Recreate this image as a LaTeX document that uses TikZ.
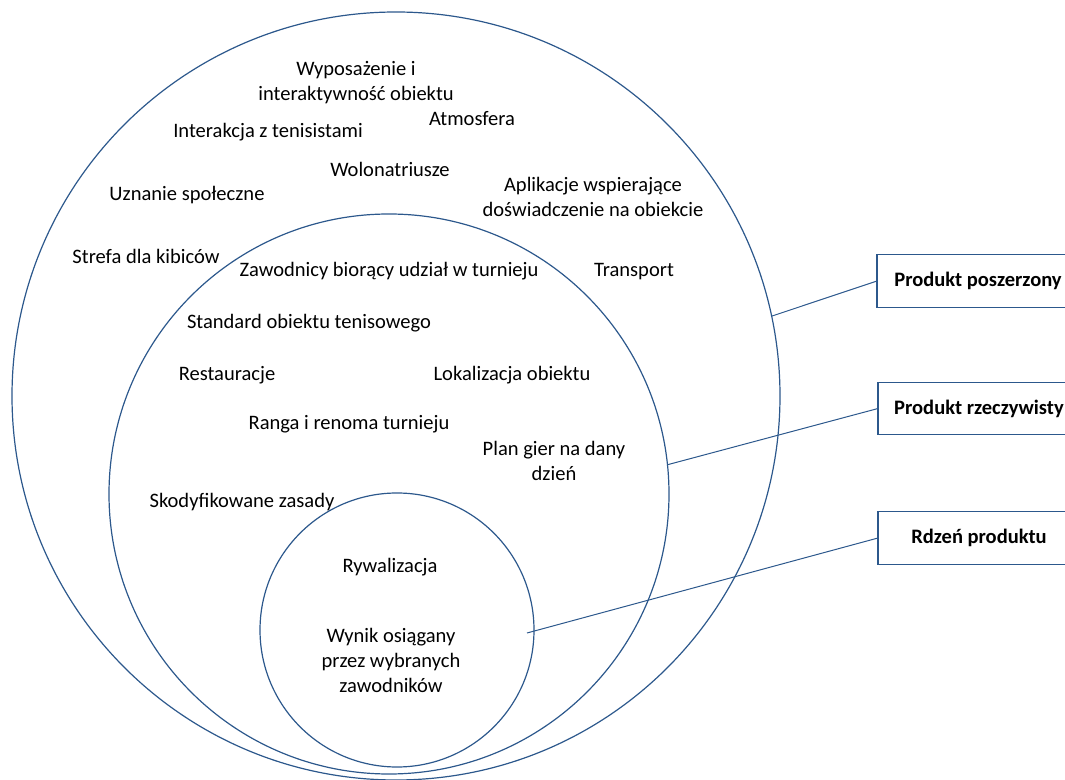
\documentclass[tikz,border=0pt]{standalone}
\usepackage{fontspec}
\setmainfont{Carlito}
\definecolor{ringblue}{RGB}{44,88,140}
\begin{document}
\begin{tikzpicture}[x=0.75pt,y=-0.75pt,
  ring/.style={draw=ringblue, line width=0.9pt, circle, inner sep=0pt, outer sep=0pt},
  lbl/.style={font=\fontsize{15.4}{18.75}\selectfont, align=center, inner sep=0pt, anchor=base},
  tag/.style={draw=ringblue, line width=0.9pt, fill=white, inner sep=0pt, outer sep=0pt,
    minimum width=151.5pt, minimum height=39.5pt, anchor=west,
    font=\fontsize{15.4}{18.75}\selectfont\bfseries},
  link/.style={draw=ringblue, line width=0.75pt}]
\useasboundingbox (0,0) rectangle (1065,780);
\clip (0,0) rectangle (1065,780);

% three nested rings of the product model
\node[ring, minimum size=576pt] (outer) at (396,396) {};
\node[ring, minimum size=420pt] (middle) at (389,494) {};
\node[ring, minimum size=205.5pt] (inner) at (397,630) {};

% outer ring: augmented product (multi-line labels sit on their last baseline)
\node[lbl] (t1) at (356,101) {Wyposażenie i\\interaktywność obiektu};
\node[lbl] (t2) at (472,126) {Atmosfera};
\node[lbl] (t3) at (268,138) {Interakcja z tenisistami};
\node[lbl] (t4) at (390,177) {Wolonatriusze};
\node[lbl] (t5) at (187,201) {Uznanie społeczne};
\node[lbl] (t6) at (593,217) {Aplikacje wspierające\\doświadczenie na obiekcie};
\node[lbl] (t7) at (146,264) {Strefa dla kibiców};
\node[lbl] (t8) at (634,277) {Transport};

% middle ring: actual product
\node[lbl] (m1) at (389,277) {Zawodnicy biorący udział w turnieju};
\node[lbl] (m2) at (309,329) {Standard obiektu tenisowego};
\node[lbl] (m3) at (227,381) {Restauracje};
\node[lbl] (m4) at (512,381) {Lokalizacja obiektu};
\node[lbl] (m5) at (349,430) {Ranga i renoma turnieju};
\node[lbl] (m6) at (554,481) {Plan gier na dany\\dzień};
\node[lbl] (m7) at (242,508) {Skodyfikowane zasady};

% inner ring: core product
\node[lbl] (c1) at (390,573) {Rywalizacja};
\node[lbl] (c2) at (391,692) {Wynik osiągany\\przez wybranych\\zawodników};

% level labels on the right
\node[tag] (lvl1) at (877,281) {Produkt poszerzony};
\node[tag] (lvl2) at (878,408.5) {Produkt rzeczywisty};
\node[tag] (lvl3) at (878,538) {Rdzeń produktu};

\coordinate (coreend) at (527,633);
\draw[link] (lvl1.west) -- (outer.12.9);
\draw[link] (lvl2.west) -- (middle.6.8);
\draw[link] (lvl3.west) -- (coreend);
\end{tikzpicture}
\end{document}
